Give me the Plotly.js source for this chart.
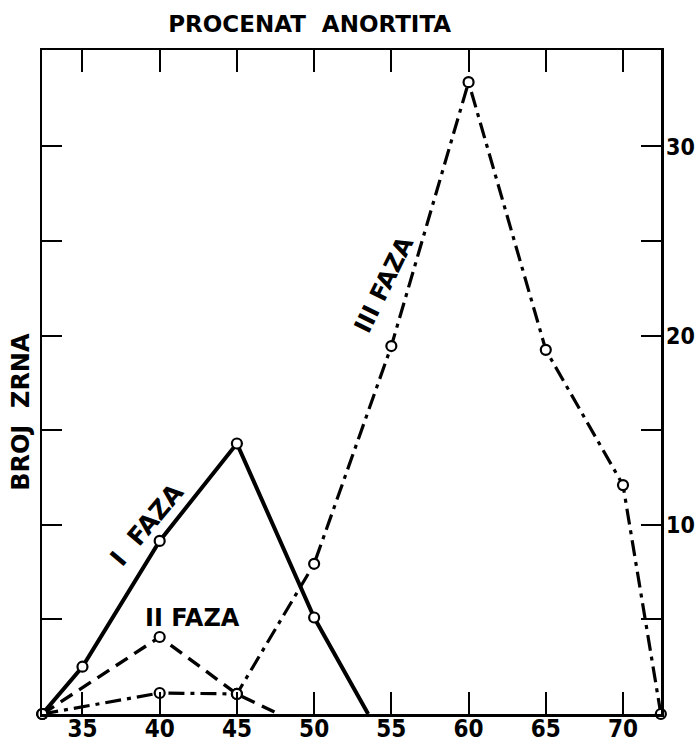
<!DOCTYPE html>
<html>
<head>
<meta charset="utf-8">
<script src="https://cdn.plot.ly/plotly-3.0.1.min.js"></script>
<style>html,body{margin:0;padding:0;background:#fff;}#chart{width:699px;height:743px;}</style>
</head>
<body>
<div id="chart"></div>
<script>
// Data
const xTicks = [35, 40, 45, 50, 55, 60, 65, 70];
const yTickVals = [5, 10, 15, 20, 25, 30];
const yTickText = ["", "10", "", "20", "", "30"];

const faza1X = [32.4, 35, 40, 45, 50, 53.5];
const faza1Y = [0, 2.5, 9.15, 14.3, 5.1, 0];
const faza1Marked = [1, 1, 1, 1, 1, 0];

const faza2X = [32.4, 40, 45, 47.7];
const faza2Y = [0, 4.07, 1.06, 0];
const faza2Marked = [1, 1, 1, 0];

const faza3X = [32.4, 40, 45, 50, 55, 60, 65, 70, 72.45];
const faza3Y = [0, 1.11, 1.06, 7.94, 19.45, 33.4, 19.25, 12.1, 0];
const faza3Marked = [1, 1, 1, 1, 1, 1, 1, 1, 1];

const labels = [
  {text: "I&nbsp;&nbsp;FAZA", x: 39.2, y: 10.0, angle: -50, size: 25},
  {text: "II FAZA", x: 42.1, y: 5.1, angle: 0, size: 24},
  {text: "III FAZA", x: 54.5, y: 22.7, angle: -64, size: 24}
];

const FONT = "DejaVu Sans, sans-serif";
const TICKFONT = "Liberation Sans Narrow, DejaVu Sans Condensed, sans-serif";

function lineTrace(x, y, dash, width) {
  return {x: x, y: y, type: "scatter", mode: "lines",
    line: {color: "#000", width: width, dash: dash}, hoverinfo: "skip", cliponaxis: false};
}
function markerTrace(x, y, marked) {
  const mx = [], my = [];
  x.forEach((v, i) => { if (marked[i]) { mx.push(v); my.push(y[i]); } });
  return {x: mx, y: my, type: "scatter", mode: "markers",
    marker: {symbol: "circle", size: 10, color: "#fff", line: {color: "#000", width: 2.2}},
    hoverinfo: "skip", cliponaxis: false};
}

const data = [
  lineTrace(faza1X, faza1Y, "solid", 4),
  lineTrace(faza2X, faza2Y, "14px,8px", 3.4),
  lineTrace(faza3X, faza3Y, "16px,6px,4px,6px", 3.2),
  markerTrace(faza1X, faza1Y, faza1Marked),
  markerTrace(faza2X, faza2Y, faza2Marked),
  markerTrace(faza3X, faza3Y, faza3Marked)
];

const annotations = labels.map(l => ({
  text: "<b>" + l.text + "</b>", x: l.x, y: l.y, xref: "x", yref: "y",
  showarrow: false, textangle: l.angle,
  font: {family: FONT, size: l.size, color: "#000"}
}));
annotations.push({
  text: "<b>BROJ&nbsp;&nbsp;ZRNA</b>", xref: "paper", yref: "paper",
  x: -0.034, y: 0.455, xanchor: "center", yanchor: "middle",
  showarrow: false, textangle: -90,
  font: {family: FONT, size: 24, color: "#000"}
});

const layout = {
  width: 699, height: 743,
  margin: {l: 42, r: 38, t: 50, b: 29, pad: 0},
  paper_bgcolor: "#fff", plot_bgcolor: "#fff",
  showlegend: false,
  title: {text: "<b>PROCENAT  ANORTITA</b>", x: 0.443, xanchor: "center", y: 0.968, yanchor: "middle",
    font: {family: FONT, size: 23, color: "#000"}},
  xaxis: {
    range: [32.38, 72.46], tickvals: xTicks, ticktext: xTicks.map(String),
    ticks: "inside", ticklen: 22, tickwidth: 2, tickcolor: "#000",
    showline: true, linewidth: 2.5, linecolor: "#000", mirror: "ticks",
    showgrid: false, zeroline: false, ticklabelstandoff: -8,
    tickfont: {family: TICKFONT, size: 24, color: "#000", weight: "bold"}
  },
  yaxis: {
    range: [0, 35.1], side: "right", tickvals: yTickVals, ticktext: yTickText,
    ticks: "inside", ticklen: 20, tickwidth: 2, tickcolor: "#000",
    showline: true, linewidth: 2.5, linecolor: "#000", mirror: "ticks",
    showgrid: false, zeroline: false, ticklabelstandoff: -2,
    tickfont: {family: TICKFONT, size: 23, color: "#000", weight: "bold"}
  },
  annotations: annotations
};

Plotly.newPlot("chart", data, layout, {staticPlot: true, displayModeBar: false});
</script>
</body>
</html>
